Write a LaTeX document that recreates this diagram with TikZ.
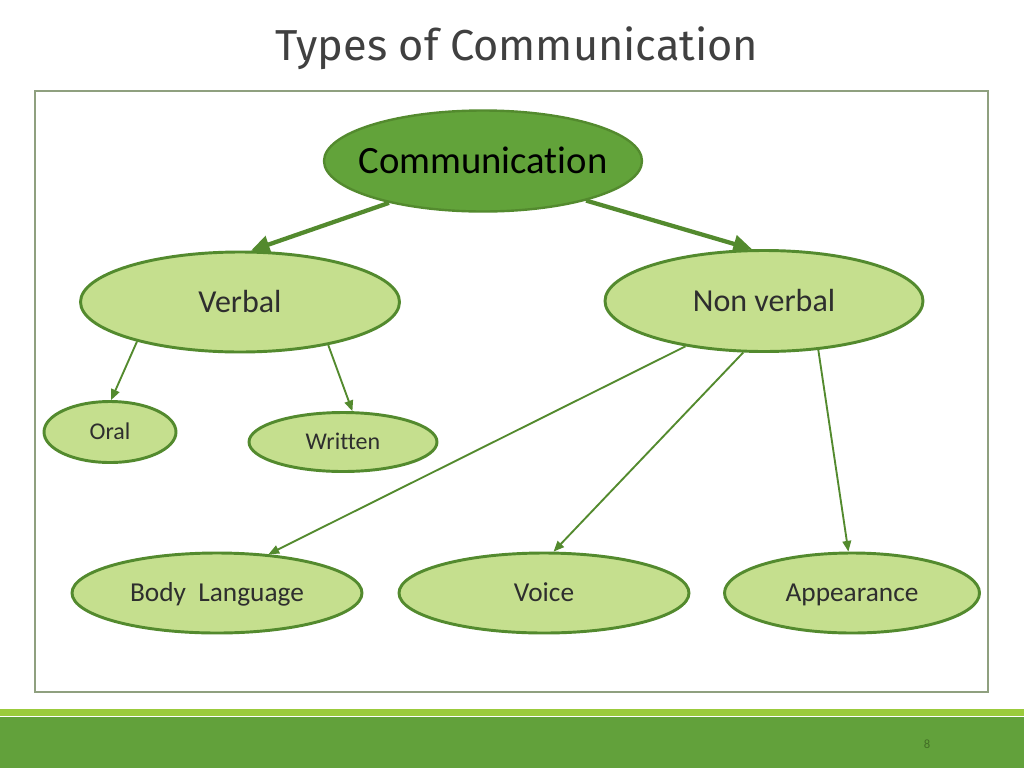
\documentclass[tikz,border=0pt]{standalone}
\usepackage{fontspec}
\setmainfont[Ligatures={NoCommon}]{Carlito}
\newfontfamily\titlefont{Fira Sans}
\usetikzlibrary{shapes.geometric,arrows.meta}
\definecolor{bordergreen}{HTML}{538A2E}
\definecolor{lightfill}{HTML}{C5DF8E}
\definecolor{darkfill}{HTML}{62A33A}
\definecolor{barlight}{HTML}{9BCB3C}
\definecolor{bardark}{HTML}{62A13B}
\definecolor{framecol}{HTML}{8FA07F}
\definecolor{txtgray}{HTML}{2E2E2E}
\newcommand{\zw}[1]{\makebox[0pt]{\raisebox{-0.32em}{#1}}}
\tikzset{
  oval/.style={ellipse, draw=bordergreen, line width=2.2pt, fill=lightfill, inner sep=0pt, text=txtgray, text height=0pt, text depth=0pt},
  bigarrow/.style={draw=bordergreen, line width=3.2pt, -{Triangle[length=14pt,width=13pt]}},
  smallarrow/.style={draw=bordergreen, line width=1.4pt, -{Triangle[length=8pt,width=6.5pt]}},
}
\begin{document}
\begin{tikzpicture}[x=0.75pt,y=-0.75pt]
\useasboundingbox (0,0) rectangle (1024,768);
\fill[white] (0,0) rectangle (1024,768);
% title
\node[font=\titlefont\fontsize{32.5}{38}\selectfont, text=black!75] (title) at (517,48) {Types of Communication};
% frame
\draw[framecol, line width=0.9pt] (35,91) rectangle (988,692);
% bottom bar
\fill[barlight] (0,709) rectangle (1024,716);
\fill[bardark] (0,717) rectangle (1024,768);
\node[font=\fontsize{9.5}{10}\selectfont, text=bordergreen!80!black] (pnum) at (927,744) {8};
% nodes
\node[oval, fill=darkfill, text=black, line width=1.8pt, minimum width=318*0.75pt, minimum height=101*0.75pt, font=\fontsize{29}{32}\selectfont] (comm) at (483,161) {\zw{Communication}};
\node[oval, minimum width=319*0.75pt, minimum height=100*0.75pt, font=\fontsize{24}{28}\selectfont] (verbal) at (240,302) {\zw{Verbal}};
\node[oval, minimum width=318*0.75pt, minimum height=101*0.75pt, font=\fontsize{24}{28}\selectfont] (nonverbal) at (764,301) {\zw{Non verbal}};
\node[oval, minimum width=132*0.75pt, minimum height=61*0.75pt, font=\fontsize{18}{20}\selectfont] (oral) at (110,432) {\zw{Oral}};
\node[oval, minimum width=188*0.75pt, minimum height=59*0.75pt, font=\fontsize{18}{20}\selectfont] (written) at (343,442) {\zw{Written}};
\node[oval, minimum width=290*0.75pt, minimum height=80*0.75pt, font=\fontsize{20.5}{24}\selectfont] (body) at (217,593) {\zw{Body\ \ Language}};
\node[oval, minimum width=290*0.75pt, minimum height=80*0.75pt, font=\fontsize{20.5}{24}\selectfont] (voice) at (544,593) {\zw{Voice}};
\node[oval, minimum width=255*0.75pt, minimum height=80*0.75pt, font=\fontsize{20.5}{24}\selectfont] (appear) at (852,593) {\zw{Appearance}};
% arrows
\draw[bigarrow] (comm.204.3) -- (verbal.78.9);
\draw[bigarrow] (comm.-21.5) -- (nonverbal.103);
\draw[smallarrow] (verbal.201.2) -- (oral.88);
\draw[smallarrow] (verbal.-26.6) -- (written.73.8);
\draw[smallarrow] (nonverbal.210.7) -- (body.37);
\draw[smallarrow] (nonverbal.248.6) -- (voice.77.6);
\draw[smallarrow] (nonverbal.-42.3) -- (appear.95.4);
\end{tikzpicture}
\end{document}
